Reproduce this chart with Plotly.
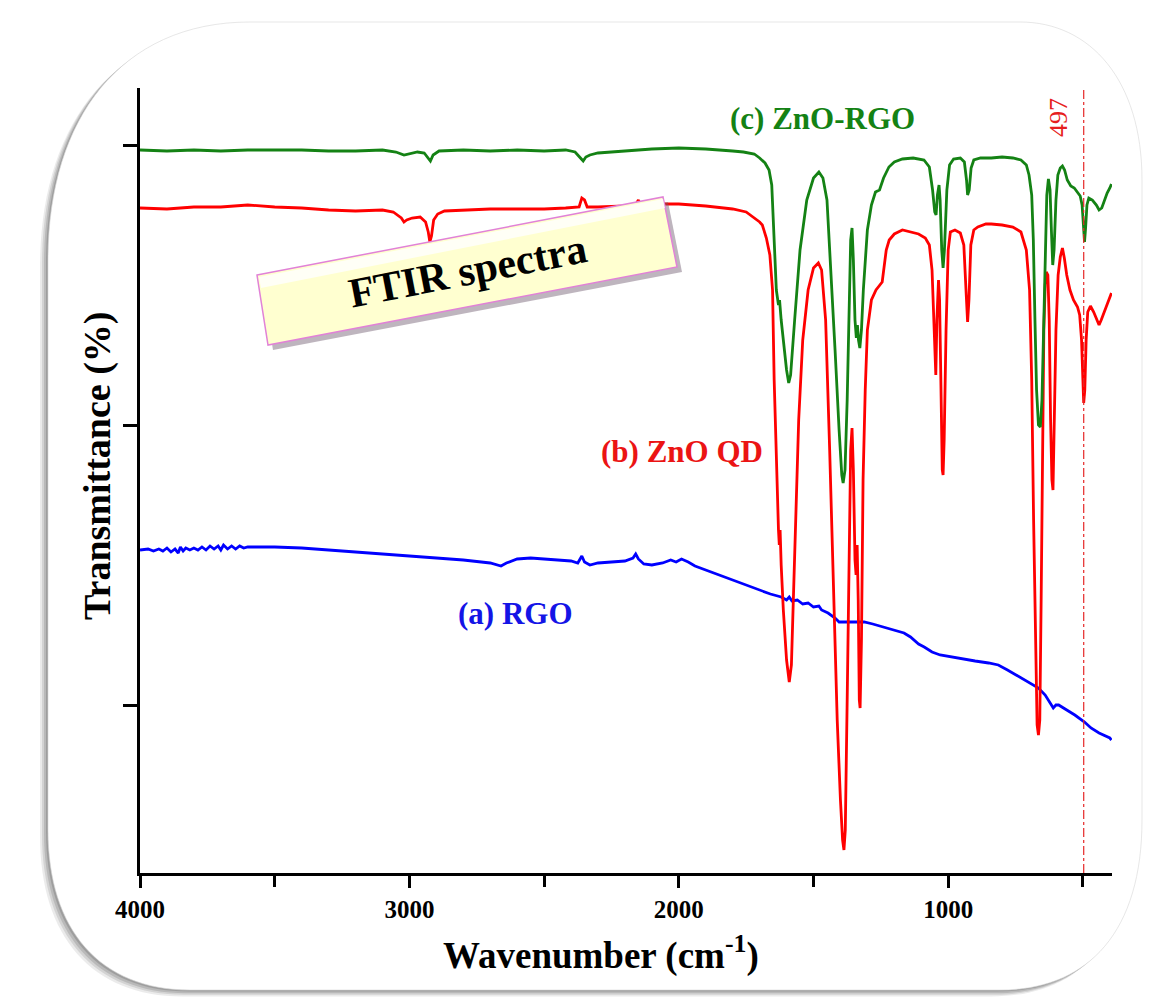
import plotly.graph_objects as go

# ---------------- data (wavenumber in cm-1, transmittance in arbitrary %-units) -------------
green_wn = [4000, 3900, 3800, 3700, 3600, 3500, 3400, 3300, 3200, 3100, 3050, 3020, 3000, 2970, 2945,
            2930, 2922, 2912, 2890, 2800, 2700, 2600, 2500, 2420, 2385, 2365, 2355, 2345, 2330, 2300,
            2200, 2100, 2000, 1900, 1800, 1760, 1720, 1700, 1680, 1665, 1655, 1647, 1638, 1630, 1626,
            1620, 1612, 1600, 1592, 1585, 1570, 1550, 1525, 1500, 1480, 1465, 1450, 1435, 1420, 1405,
            1395, 1390, 1383, 1375, 1368, 1362, 1357, 1352, 1346, 1341, 1337, 1333, 1328, 1322, 1315,
            1300, 1285, 1270, 1255, 1240, 1220, 1200, 1170, 1130, 1090, 1070, 1058, 1050, 1045, 1040,
            1034, 1030, 1024, 1019, 1014, 1005, 995, 980, 955, 940, 932, 928, 922, 915, 905, 880, 840,
            800, 760, 730, 710, 700, 690, 684, 678, 672, 665, 658, 652, 646, 640, 634, 628, 622, 617,
            612, 607, 600, 593, 584, 576, 568, 558, 545, 532, 520, 510, 503, 498, 494, 490, 485, 478,
            465, 450, 440, 430, 420, 410, 400, 394]
green_t = [72.3, 72.2, 72.3, 72.2, 72.3, 72.3, 72.3, 72.2, 72.2, 72.3, 72.1, 71.8, 71.9, 72.1, 72.0,
           71.5, 71.2, 71.8, 72.2, 72.3, 72.2, 72.3, 72.2, 72.3, 72.1, 71.5, 71.2, 71.6, 71.8, 72.0,
           72.2, 72.4, 72.5, 72.4, 72.2, 72.1, 71.9, 71.5, 71.0, 70.3, 68.8, 64.3, 58.3, 56.8, 57.3,
           55.3, 53.3, 50.3, 49.0, 49.8, 55.3, 62.3, 67.3, 69.5, 70.1, 69.5, 67.3, 60.3, 52.3, 44.3,
           39.8, 39.0, 40.3, 47.3, 57.3, 63.3, 64.5, 61.3, 55.3, 53.5, 54.8, 53.3, 52.5, 54.3, 58.3,
           64.3, 66.8, 68.1, 68.3, 69.5, 70.6, 71.1, 71.4, 71.5, 71.3, 70.6, 68.3, 66.1, 65.8, 67.8,
           68.8, 67.3, 62.3, 60.5, 62.3, 68.3, 70.8, 71.4, 71.5, 71.1, 69.3, 67.8, 68.3, 70.5, 71.3,
           71.5, 71.5, 71.6, 71.5, 71.3, 70.8, 69.8, 67.8, 63.3, 55.3, 48.3, 44.8, 44.6, 47.3, 55.3,
           63.3, 67.8, 69.4, 68.3, 64.3, 60.8, 62.3, 67.3, 69.8, 70.5, 70.7, 70.3, 69.3, 68.7, 68.5,
           68.1, 67.7, 66.8, 64.3, 63.1, 64.5, 66.8, 67.5, 67.3, 66.8, 66.3, 66.5, 67.3, 68.0, 68.5,
           68.9]

red_wn = [4000, 3900, 3800, 3700, 3600, 3500, 3400, 3300, 3200, 3100, 3060, 3030, 3020, 3010, 2990,
          2960, 2940, 2930, 2924, 2918, 2910, 2895, 2870, 2800, 2700, 2600, 2500, 2420, 2370, 2360,
          2350, 2340, 2300, 2200, 2160, 2150, 2140, 2100, 2000, 1900, 1800, 1750, 1720, 1700, 1690,
          1675, 1662, 1652, 1646, 1638, 1630, 1627, 1624, 1620, 1612, 1600, 1590, 1582, 1570, 1555,
          1540, 1520, 1500, 1482, 1470, 1455, 1440, 1425, 1412, 1400, 1392, 1387, 1382, 1375, 1368,
          1362, 1357, 1352, 1346, 1342, 1338, 1334, 1330, 1327, 1322, 1316, 1308, 1300, 1285, 1268,
          1245, 1230, 1219, 1200, 1170, 1140, 1110, 1085, 1070, 1060, 1052, 1046, 1042, 1036, 1032,
          1027, 1022, 1019, 1015, 1008, 1000, 992, 975, 955, 942, 933, 928, 923, 916, 905, 890, 860,
          840, 800, 760, 730, 710, 698, 690, 683, 676, 670, 665, 660, 655, 650, 645, 640, 636, 630,
          625, 620, 615, 611, 607, 600, 592, 584, 576, 569, 560, 548, 535, 520, 512, 505, 500, 497,
          493, 488, 482, 472, 460, 450, 440, 432, 420, 410, 400, 394]
red_t = [66.5, 66.4, 66.6, 66.6, 66.8, 66.6, 66.5, 66.3, 66.2, 66.3, 66.1, 65.5, 65.1, 65.3, 65.5,
         65.6, 65.1, 64.1, 63.1, 63.7, 65.3, 65.9, 66.2, 66.3, 66.4, 66.4, 66.4, 66.5, 66.6, 67.5,
         67.3, 66.6, 66.6, 66.7, 66.8, 67.3, 66.7, 66.9, 66.9, 66.7, 66.4, 66.1, 65.5, 65.1, 64.8,
         63.5, 61.8, 58.3, 49.3, 40.3, 34.3, 32.8, 34.3, 30.8, 26.3, 21.3, 19.1, 20.8, 31.3, 45.3,
         53.3, 58.3, 60.5, 61.0, 60.3, 55.3, 42.3, 27.3, 15.3, 7.3, 3.3, 2.3, 4.3, 17.3, 32.3,
         42.3, 44.5, 40.3, 31.3, 29.8, 32.8, 27.3, 17.3, 16.5, 23.3, 39.3, 48.3, 54.3, 57.3, 58.3,
         59.1, 62.3, 63.3, 63.9, 64.3, 64.1, 63.9, 63.5, 62.8, 60.3, 54.3, 49.8, 55.3, 59.3, 57.3,
         47.3, 40.3, 39.8, 43.3, 54.3, 62.3, 64.1, 64.3, 64.0, 62.8, 57.8, 55.1, 57.3, 62.8, 64.3,
         64.6, 64.9, 64.9, 64.8, 64.6, 64.1, 62.3, 58.3, 49.3, 35.3, 21.3, 14.8, 13.8, 15.3, 27.3,
         42.3, 54.3, 58.8, 60.1, 59.8, 55.3, 45.3, 39.3, 38.3, 43.3, 54.3, 59.8, 61.6, 62.5, 61.5,
         59.8, 58.3, 57.3, 56.6, 55.8, 53.3, 49.3, 47.0, 48.3, 53.3, 56.1, 56.7, 56.1, 55.5, 54.8,
         55.3, 56.1, 56.8, 57.5, 58.0]

blue_wn = [4000, 3970, 3950, 3930, 3915, 3900, 3885, 3870, 3858, 3850, 3840, 3830, 3815, 3800, 3785,
           3770, 3755, 3740, 3725, 3710, 3700, 3690, 3675, 3660, 3645, 3630, 3615, 3600, 3580, 3560,
           3500, 3400, 3300, 3200, 3100, 3000, 2900, 2800,
           2700, 2660, 2640, 2600, 2550, 2500, 2450, 2400, 2375, 2360, 2350, 2330, 2300, 2250, 2200,
           2170, 2160, 2150, 2130, 2100, 2060, 2030, 2010, 1990, 1965, 1940, 1900, 1860, 1820, 1780,
           1732, 1700, 1660, 1620, 1600, 1590, 1580, 1560, 1540, 1520, 1500, 1480, 1470, 1446, 1420,
           1405, 1380, 1340, 1312, 1280, 1240, 1200, 1164, 1140, 1110, 1089, 1060, 1030, 989, 950,
           900, 850, 814, 780, 740, 700, 665, 640, 620, 610, 600, 590, 560, 530, 494, 470, 440, 415,
           400, 394]
blue_t = [32.3, 32.4, 32.2, 32.4, 32.2, 32.5, 32.1, 32.4, 32.0, 32.6, 32.2, 32.5, 32.3, 32.5, 32.3,
          32.6, 32.3, 32.7, 32.4, 32.7, 32.3, 32.8, 32.4, 32.7, 32.4, 32.7, 32.5, 32.6, 32.6, 32.6,
          32.6, 32.5, 32.3, 32.1, 31.9, 31.7, 31.5, 31.3,
          31.0, 30.7, 31.0, 31.4, 31.5, 31.4, 31.3, 31.2, 31.0, 31.7, 31.1, 30.8, 31.0, 31.1, 31.2,
          31.5, 31.9, 31.4, 30.9, 30.8, 31.0, 31.3, 31.1, 31.4, 31.1, 30.7, 30.3, 29.9, 29.5, 29.1,
          28.6, 28.3, 27.9, 27.6, 27.3, 27.6, 27.2, 27.3, 26.9, 27.0, 26.6, 26.7, 26.3, 26.0, 25.5,
          25.1, 25.1, 25.1, 25.1, 24.9, 24.6, 24.3, 24.0, 23.6, 22.9, 22.6, 22.1, 21.8, 21.6, 21.4,
          21.2, 21.0, 20.8, 20.3, 19.7, 19.1, 18.5, 17.8, 17.0, 16.5, 16.8, 16.8, 16.3, 15.8, 15.1,
          14.5, 14.0, 13.7, 13.5, 13.3]

x_ticks = [4000, 3000, 2000, 1000]
x_tick_labels = ["4000", "3000", "2000", "1000"]
x_minor_ticks = [3500, 2500, 1500, 500]
y_ticks = [16.8, 44.8, 72.8]
marker_wn = 497

series_names = ["(a) RGO", "(b) ZnO QD", "(c) ZnO-RGO"]

# ---------------- layout helpers (screen pixel -> paper) ----------------
PAGE_OFF = 8                      # default body margin of the html page
W, H = 1165 - PAGE_OFF, 1000 - PAGE_OFF
L, R, T, B = 140, 1112, 88, 873   # plot area in screen pixels


def px(x):
    return (x - L) / (R - L)


def py(y):
    return (B - y) / (B - T)


def pt(p):
    return f"{px(p[0]):.5f},{py(p[1]):.5f}"


def poly_path(points):
    s = "M " + pt(points[0])
    for p in points[1:]:
        s += " L " + pt(p)
    return s + " Z"


def frame_path(dx=0, dy=0):
    l, r, t, b = 48 + dx, 1142 + dx, 22 + dy, 990 + dy
    segs = [
        ("M", [(l, 260 + dy)]),
        ("C", [(l, 120 + dy), (120 + dx, t), (250 + dx, t)]),
        ("L", [(1020 + dx, t)]),
        ("C", [(1090 + dx, t), (r, 80 + dy), (r, 180 + dy)]),
        ("L", [(r, 820 + dy)]),
        ("C", [(r, 930 + dy), (1090 + dx, b), (1000 + dx, b)]),
        ("L", [(190 + dx, b)]),
        ("C", [(100 + dx, b), (l, 930 + dy), (l, 830 + dy)]),
    ]
    return " ".join(c + " " + " ".join(pt(p) for p in ps) for c, ps in segs) + " Z"


shapes = []
# frame shadow (soft, toward lower-left)
for i, a in enumerate([0.08, 0.10, 0.12, 0.14]):
    off = 8 - 2 * i
    shapes.append(dict(type="path", xref="paper", yref="paper", layer="below",
                       path=frame_path(-off, off * 0.8), fillcolor=f"rgba(0,0,0,{a})",
                       line=dict(width=0)))
shapes.append(dict(type="path", xref="paper", yref="paper", layer="below",
                   path=frame_path(), fillcolor="white", line=dict(color="rgba(215,215,215,0.6)", width=1)))

# FTIR spectra label box (rotated)
box = [(257, 275), (663, 197), (677, 267), (268, 345)]
shadow = [(x + 5, y + 5) for x, y in box]
shapes.append(dict(type="path", xref="paper", yref="paper", layer="above",
                   path=poly_path(shadow), fillcolor="rgba(110,90,110,0.45)", line=dict(width=0)))
shapes.append(dict(type="path", xref="paper", yref="paper", layer="above",
                   path=poly_path(box), fillcolor="rgb(255,255,208)",
                   line=dict(color="rgb(225,130,215)", width=1.5)))
hl = [(259, 277), (663, 199), (665, 208), (261, 288)]
shapes.append(dict(type="path", xref="paper", yref="paper", layer="above",
                   path=poly_path(hl), fillcolor="rgba(255,255,255,0.8)", line=dict(width=0)))

# 497 marker line
shapes.append(dict(type="line", xref="x", yref="paper", x0=marker_wn, x1=marker_wn, y0=0, y1=1,
                   line=dict(color="rgb(230,40,40)", width=1.2, dash="dashdot"), layer="above"))

fig = go.Figure()
fig.add_trace(go.Scatter(x=blue_wn, y=blue_t, mode="lines", name=series_names[0],
                         line=dict(color="rgb(0,0,255)", width=2.8)))
fig.add_trace(go.Scatter(x=red_wn, y=red_t, mode="lines", name=series_names[1],
                         line=dict(color="rgb(255,0,0)", width=2.8)))
fig.add_trace(go.Scatter(x=green_wn, y=green_t, mode="lines", name=series_names[2],
                         line=dict(color="rgb(20,130,20)", width=2.8)))

serif = "Liberation Serif"


def label(sx, sy, text, size, color, angle=0):
    return dict(x=px(sx), y=py(sy), xref="paper", yref="paper", text=text, showarrow=False,
                xanchor="center", yanchor="middle", textangle=angle,
                font=dict(family=serif, size=size, color=color))


annotations = [
    label(822, 118, "<b>(c) ZnO-RGO</b>", 31, "rgb(20,130,20)"),
    label(682, 451, "<b>(b) ZnO QD</b>", 31, "rgb(235,20,20)"),
    label(515, 613, "<b>(a) RGO</b>", 31, "rgb(20,20,230)"),
    label(1058, 118, "497", 26, "rgb(230,30,30)", -90),
    label(467, 271, "<b>FTIR spectra</b>", 42, "black", -11),
    label(601, 953, "<b>Wavenumber (cm<sup>-1</sup>)</b>", 37, "black"),
    label(97, 466, "<b>Transmittance (%)</b>", 38, "black", -90),
]

fig.update_layout(
    width=W, height=H,
    margin=dict(l=L - PAGE_OFF, r=W - (R - PAGE_OFF), t=T - PAGE_OFF, b=H - (B - PAGE_OFF)),
    paper_bgcolor="white", plot_bgcolor="rgba(0,0,0,0)",
    showlegend=False,
    shapes=shapes,
    annotations=annotations,
    xaxis=dict(range=[4000, 392], tickvals=x_ticks, ticktext=[f"<b>{t}</b>" for t in x_tick_labels],
               showline=True, linecolor="black", linewidth=2.5, ticks="outside",
               ticklen=12, tickwidth=2.5, tickcolor="black", showgrid=False, zeroline=False,
               tickfont=dict(family=serif, size=25, color="black"),
               minor=dict(tickvals=x_minor_ticks, ticks="outside", ticklen=11,
                          tickwidth=2.5, tickcolor="black", showgrid=False)),
    yaxis=dict(range=[0, 78.5], tickvals=y_ticks, showticklabels=False,
               showline=True, linecolor="black", linewidth=2.5, ticks="outside",
               ticklen=14, tickwidth=2.5, tickcolor="black", showgrid=False, zeroline=False),
)

fig.write_html("out.html")
